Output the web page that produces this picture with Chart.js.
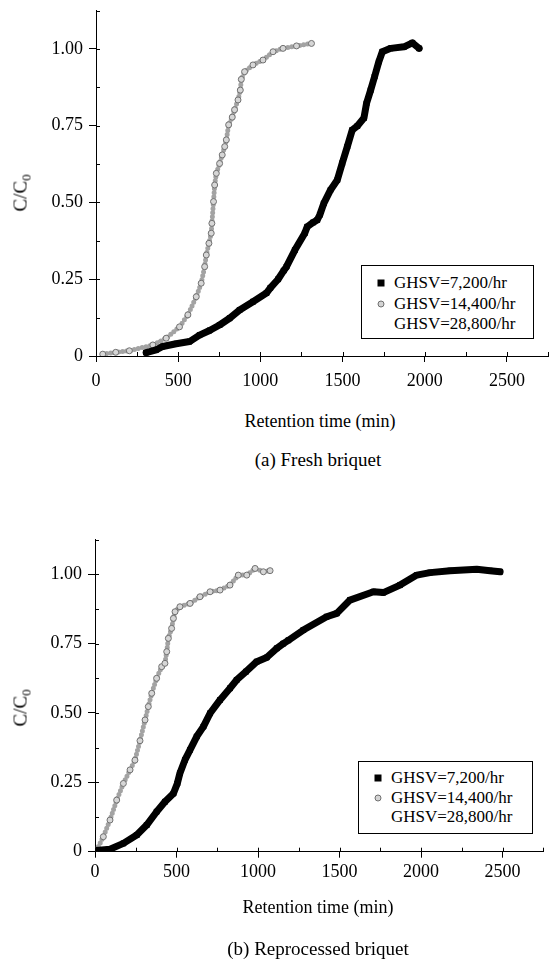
<!DOCTYPE html>
<html>
<head>
<meta charset="utf-8">
<script src="https://cdn.jsdelivr.net/npm/chart.js@4.4.1/dist/chart.umd.min.js"></script>
<style>
  body { margin: 0; background: #fff; width: 555px; height: 963px; position: relative; overflow: hidden;
         font-family: "Liberation Serif", "Times New Roman", serif; color: #000; }
  canvas { position: absolute; left: 0; }
  .t { position: absolute; white-space: nowrap; transform: translate(-50%, -50%); }
  .yt { position: absolute; white-space: nowrap; transform: translate(-50%, -50%) rotate(-90deg); font-size: 19px; }
  .yt sub { font-size: 13px; vertical-align: -4px; }
  .leg { position: absolute; border: 1px solid #000; background: #fff; font-size: 17px; }
  .row { position: absolute; left: 32px; white-space: nowrap; transform: translateY(-50%); }
  .mk { position: absolute; transform: translate(-50%, -50%); }
  .sq { width: 7px; height: 7px; background: #000; }
  .ci { width: 5px; height: 5px; border-radius: 50%; background: #d4d4d4; border: 1px solid #6f6f6f; }
</style>
</head>
<body>
<canvas id="fresh" width="555" height="400" style="top:0px"></canvas>
<canvas id="repro" width="555" height="400" style="top:520px"></canvas>

<div class="yt" style="left:22px; top:193px">C/C<sub>0</sub></div>
<div class="t" style="left:320px; top:421px; font-size:18px">Retention time (min)</div>
<div class="t" style="left:318px; top:460px; font-size:19px">(a) Fresh briquet</div>

<div class="yt" style="left:22px; top:708px">C/C<sub>0</sub></div>
<div class="t" style="left:318px; top:907px; font-size:18px">Retention time (min)</div>
<div class="t" style="left:318px; top:949px; font-size:19px">(b) Reprocessed briquet</div>

<div class="leg" style="left:361px; top:265px; width:171px; height:72px">
  <div class="mk sq" style="left:19px; top:17px"></div><div class="row" style="top:17px">GHSV=7,200/hr</div>
  <div class="mk ci" style="left:19px; top:38px"></div><div class="row" style="top:38px">GHSV=14,400/hr</div>
  <div class="row" style="top:58px">GHSV=28,800/hr</div>
</div>
<div class="leg" style="left:358px; top:761px; width:173px; height:71px">
  <div class="mk sq" style="left:19px; top:16px"></div><div class="row" style="top:16px">GHSV=7,200/hr</div>
  <div class="mk ci" style="left:19px; top:36px"></div><div class="row" style="top:36px">GHSV=14,400/hr</div>
  <div class="row" style="top:55px">GHSV=28,800/hr</div>
</div>

<script>
// (a) Fresh briquet — breakthrough curves, retention time (min) vs C/C0
const freshTime7200 = [305, 366, 406, 488, 569, 630, 691, 752, 813, 874, 955, 1037, 1061, 1108, 1142, 1159, 1210, 1270, 1285, 1321, 1346, 1362, 1386, 1427, 1468, 1498, 1529, 1559, 1590, 1630, 1646, 1671, 1695, 1721, 1742, 1793, 1874, 1925, 1966];
const freshConc7200 = [0.011, 0.020, 0.031, 0.040, 0.047, 0.068, 0.083, 0.101, 0.123, 0.150, 0.177, 0.205, 0.222, 0.250, 0.278, 0.291, 0.345, 0.400, 0.421, 0.435, 0.443, 0.460, 0.497, 0.541, 0.573, 0.628, 0.682, 0.736, 0.749, 0.775, 0.823, 0.866, 0.910, 0.959, 0.991, 1.002, 1.007, 1.020, 1.002];
const freshTime14400 = [41, 120, 203, 346, 427, 508, 559, 610, 640, 661, 671, 687, 701, 705, 715, 722, 732, 752, 768, 783, 793, 807, 829, 843, 864, 878, 884, 904, 955, 1016, 1077, 1138, 1220, 1311];
const freshConc14400 = [0.006, 0.012, 0.017, 0.036, 0.058, 0.095, 0.134, 0.193, 0.237, 0.291, 0.329, 0.367, 0.400, 0.432, 0.503, 0.557, 0.595, 0.627, 0.655, 0.682, 0.704, 0.753, 0.778, 0.802, 0.834, 0.866, 0.901, 0.926, 0.948, 0.964, 0.991, 1.002, 1.010, 1.018];

// (b) Reprocessed briquet
const reproTime7200 = [10, 92, 174, 256, 317, 378, 429, 481, 505, 521, 552, 583, 624, 665, 706, 767, 828, 869, 926, 992, 1053, 1115, 1155, 1186, 1278, 1421, 1483, 1564, 1708, 1769, 1871, 1974, 2055, 2178, 2342, 2423, 2485];
const reproConc7200 = [0.004, 0.009, 0.030, 0.060, 0.096, 0.144, 0.180, 0.210, 0.246, 0.283, 0.331, 0.367, 0.415, 0.451, 0.499, 0.547, 0.589, 0.619, 0.649, 0.685, 0.700, 0.733, 0.750, 0.762, 0.799, 0.847, 0.859, 0.907, 0.937, 0.934, 0.961, 0.997, 1.006, 1.013, 1.018, 1.013, 1.009];
const reproTime14400 = [10, 51, 92, 133, 174, 215, 245, 276, 307, 327, 348, 378, 409, 429, 440, 450, 470, 481, 491, 521, 583, 644, 706, 767, 828, 879, 931, 982, 1033, 1074];
const reproConc14400 = [0.006, 0.054, 0.114, 0.186, 0.246, 0.295, 0.330, 0.400, 0.475, 0.523, 0.571, 0.625, 0.667, 0.679, 0.721, 0.769, 0.805, 0.841, 0.865, 0.883, 0.895, 0.919, 0.937, 0.943, 0.961, 0.997, 0.997, 1.021, 1.009, 1.013];

// Axis ticks
const xMajorStep = 500, xMinorStep = 250, xMax = 2750;
const yMajorStep = 0.25, yMinorStep = 0.125, yMax = 1.125;

const pairs = (xs, ys) => xs.map((x, i) => ({ x: x, y: ys[i] }));
const isMajor = (v, step) => Math.abs(v / step - Math.round(v / step)) < 1e-6;

// short inward ticks on the minor divisions
const minorTicks = {
  id: 'minorTicks',
  afterDraw(chart) {
    const c = chart.ctx, a = chart.chartArea;
    const xs = chart.scales.x, ys = chart.scales.y;
    c.save();
    c.strokeStyle = '#000';
    c.lineWidth = 1;
    c.beginPath();
    xs.ticks.forEach(t => {
      if (t.value === 0) return;
      const p = Math.round(xs.getPixelForValue(t.value)) + 0.5;
      c.moveTo(p, a.bottom); c.lineTo(p, a.bottom - 4);
    });
    ys.ticks.forEach(t => {
      if (t.value === 0) return;
      const p = Math.round(ys.getPixelForValue(t.value)) + 0.5;
      c.moveTo(a.left, p); c.lineTo(a.left + 4, p);
    });
    c.stroke();
    c.restore();
  }
};

// plot-area box (canvas pixels) is fixed by the layout padding and the axis sizes
function breakthroughChart(id, t1, c1, t2, c2, area, xPad) {
  return new Chart(document.getElementById(id), {
    type: 'scatter',
    data: {
      datasets: [
        {
          label: 'GHSV=7,200/hr',
          data: pairs(t1, c1),
          showLine: true,
          borderColor: '#000',
          borderWidth: 7,
          borderJoinStyle: 'round',
          borderCapStyle: 'round',
          pointStyle: 'rect',
          pointRadius: 3.5,
          pointBackgroundColor: '#000',
          pointBorderColor: '#000',
          pointBorderWidth: 1,
          tension: 0
        },
        {
          label: 'GHSV=14,400/hr',
          data: pairs(t2, c2),
          showLine: true,
          borderColor: '#a3a3a3',
          borderWidth: 5,
          borderDash: [0, 4],
          borderCapStyle: 'round',
          pointStyle: 'circle',
          pointRadius: 3,
          pointBackgroundColor: '#d6d6d6',
          pointBorderColor: '#707070',
          pointBorderWidth: 1,
          tension: 0
        }
      ]
    },
    options: {
      responsive: false,
      animation: false,
      devicePixelRatio: 1,
      layout: { padding: { top: area.top, right: 555 - area.right, left: 0, bottom: 0 } },
      plugins: { legend: { display: false }, tooltip: { enabled: false } },
      scales: {
        x: {
          type: 'linear',
          min: 0, max: xMax,
          afterFit: s => { s.height = 400 - area.bottom; s.paddingLeft = 0; s.paddingRight = 0; },
          border: { display: true, color: '#000', width: 1 },
          grid: {
            drawOnChartArea: false, drawTicks: true, tickLength: 6,
            tickColor: ctx => isMajor(ctx.tick.value, xMajorStep) ? '#000' : 'rgba(0,0,0,0)'
          },
          ticks: {
            stepSize: xMinorStep, autoSkip: false, maxRotation: 0, padding: xPad,
            color: '#000', font: { family: '"Liberation Serif", serif', size: 18 },
            callback: v => isMajor(v, xMajorStep) && v < xMax ? String(v) : ''
          }
        },
        y: {
          type: 'linear',
          min: 0, max: yMax,
          afterFit: s => { s.width = area.left; s.paddingTop = 0; s.paddingBottom = 0; },
          border: { display: true, color: '#000', width: 1 },
          grid: {
            drawOnChartArea: false, drawTicks: true, tickLength: 7,
            tickColor: ctx => isMajor(ctx.tick.value, yMajorStep) ? '#000' : 'rgba(0,0,0,0)'
          },
          ticks: {
            stepSize: yMinorStep, autoSkip: false, padding: 6,
            color: '#000', font: { family: '"Liberation Serif", serif', size: 18 },
            callback: v => isMajor(v, yMajorStep) && v < yMax ? (v === 0 ? '0' : v.toFixed(2)) : ''
          }
        }
      }
    },
    plugins: [minorTicks]
  });
}

breakthroughChart('fresh', freshTime7200, freshConc7200, freshTime14400, freshConc14400,
  { left: 96, top: 10.6, right: 548, bottom: 356 }, 8);
breakthroughChart('repro', reproTime7200, reproConc7200, reproTime14400, reproConc14400,
  { left: 95, top: 19.6, right: 543.3, bottom: 331.7 }, 4);
</script>
</body>
</html>
